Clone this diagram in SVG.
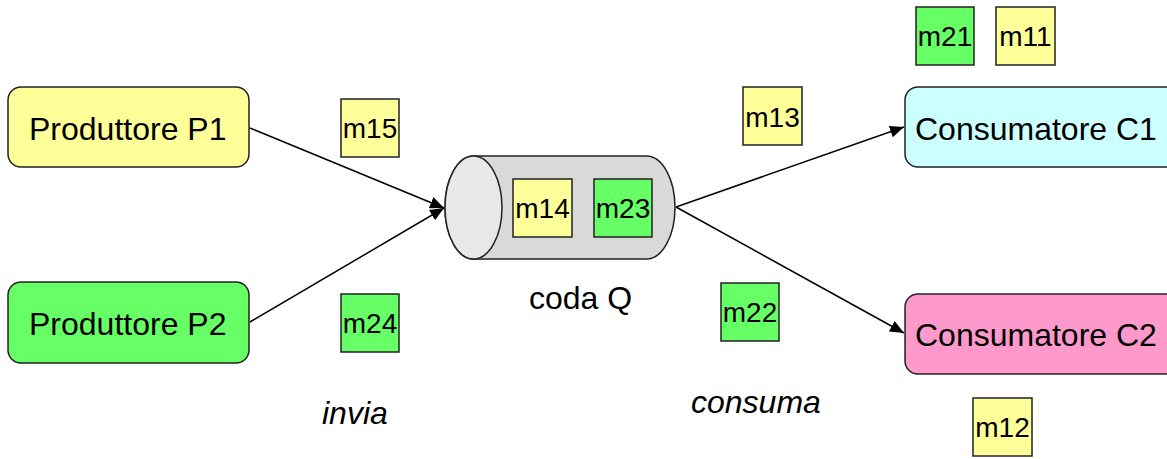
<svg xmlns="http://www.w3.org/2000/svg" width="1167" height="459" viewBox="0 0 1167 459">
<defs>
<style>
.big{font-family:"Liberation Sans",Arial,sans-serif;font-size:32px;fill:#000}
.sm{font-family:"Liberation Sans",Arial,sans-serif;font-size:28px;fill:#000;text-anchor:middle}
.it{font-style:italic}
.node{stroke:#222;stroke-width:1.5}
.msg{stroke:#222;stroke-width:1.5}
.y{fill:#FFFF99}
.g{fill:#66FF66}
.conn{stroke:#000;stroke-width:1.5;fill:none;marker-end:url(#ah)}
</style>
<marker id="ah" viewBox="0 0 14 12" refX="14" refY="6" markerWidth="14" markerHeight="12" markerUnits="userSpaceOnUse" orient="auto">
<path d="M0,0 L14,6 L0,12 Z" fill="#000"/>
</marker>
</defs>
<rect width="1167" height="459" fill="#fff"/>
<g id="connectors">
<line class="conn" x1="250" y1="128" x2="444" y2="208"/>
<line class="conn" x1="250" y1="322" x2="444" y2="208"/>
<line class="conn" x1="676" y1="207" x2="904" y2="127"/>
<line class="conn" x1="676" y1="207" x2="904" y2="333"/>
</g>
<g id="P1">
<rect class="node" x="8" y="87" width="241" height="80" rx="13" fill="#FFFF99"/>
<text class="big" x="29" y="139.5">Produttore P1</text>
</g>
<g id="P2">
<rect class="node" x="8" y="282" width="241" height="81" rx="13" fill="#66FF66"/>
<text class="big" x="29" y="335">Produttore P2</text>
</g>
<g id="C1">
<rect class="node" x="905" y="87" width="275" height="80" rx="13" fill="#CCFFFF"/>
<text class="big" x="915" y="139.5">Consumatore C1</text>
</g>
<g id="C2">
<rect class="node" x="905" y="294" width="275" height="80" rx="13" fill="#FF99CC"/>
<text class="big" x="915" y="346">Consumatore C2</text>
</g>
<g id="queue">
<path class="node" d="M473.5,156 L646.5,156 A28.5,51.5 0 0 1 646.5,259 L473.5,259 A28.5,51.5 0 0 1 473.5,156 Z" fill="#D9D9D9"/>
<ellipse class="node" cx="473.5" cy="207.5" rx="28.5" ry="51.5" fill="#E8E8E8"/>
<g id="m14"><rect class="msg y" x="513" y="179" width="59" height="58"/><text class="sm" x="542.5" y="218">m14</text></g>
<g id="m23"><rect class="msg g" x="594" y="179" width="58" height="58"/><text class="sm" x="623" y="218">m23</text></g>
<text class="big" x="529" y="309">coda Q</text>
</g>
<g id="m15"><rect class="msg y" x="341" y="99" width="58" height="58"/><text class="sm" x="370" y="138">m15</text></g>
<g id="m24"><rect class="msg g" x="341" y="294" width="58" height="58"/><text class="sm" x="370" y="333">m24</text></g>
<g id="m13"><rect class="msg y" x="743" y="87" width="59" height="58"/><text class="sm" x="772.5" y="126.5">m13</text></g>
<g id="m22"><rect class="msg g" x="721" y="283" width="58" height="58"/><text class="sm" x="750" y="322">m22</text></g>
<g id="m21"><rect class="msg g" x="916" y="7" width="58" height="58"/><text class="sm" x="945" y="46">m21</text></g>
<g id="m11"><rect class="msg y" x="996" y="7" width="59" height="58"/><text class="sm" x="1025.5" y="46">m11</text></g>
<g id="m12"><rect class="msg y" x="973" y="398" width="59" height="58"/><text class="sm" x="1002.5" y="437">m12</text></g>
<text class="big it" x="322" y="424">invia</text>
<text class="big it" x="691" y="413">consuma</text>
</svg>
